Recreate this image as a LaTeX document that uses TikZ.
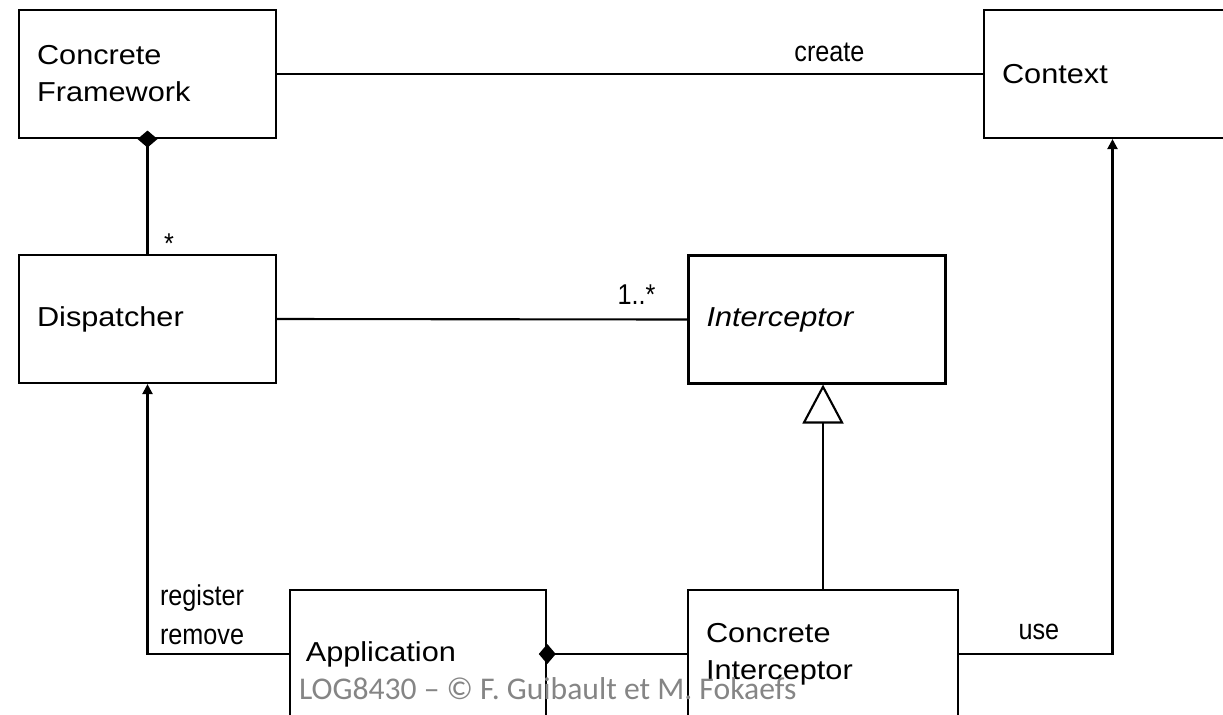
\documentclass[tikz,border=0pt]{standalone}
\usepackage{fontspec}
\setsansfont{Liberation Sans}
\newfontfamily\clsfont[FakeStretch=1.12]{Liberation Sans}
\newfontfamily\lblfont[FakeStretch=0.88]{Liberation Sans}
\newfontfamily\notefont{Carlito}
\usetikzlibrary{arrows.meta, positioning}
\definecolor{cgrey}{HTML}{858585}
\tikzset{
  every picture/.style={font=\sffamily, line width=1.2pt},
  cls/.style={draw, text width=4.42cm, inner xsep=0.36cm, minimum height=2.56cm, align=left, font=\clsfont\fontsize{15.6}{21}\selectfont},
  lbl/.style={font=\lblfont\fontsize{16.3}{22.1}\selectfont, inner sep=0pt, align=left},
  nav/.style={-{Triangle[length=0.2cm, width=0.2cm]}},
  compose/.style={-{Diamond[length=0.34cm, width=0.4cm]}, shorten >=-0.17cm},
  inherit/.style={-{Triangle[open, length=0.78cm, width=0.82cm]}},
  note/.style={font=\notefont\fontsize{18}{22}\selectfont, text=cgrey, inner sep=0pt},
}

\begin{document}
\begin{tikzpicture}[x=0.02cm, y=-0.02cm]
  \useasboundingbox (0,0) rectangle (1223,714);
  % classes
  \node[cls] (fw) at (147.5,74) {Concrete\\Framework};
  \node[cls] (ctx) at (1112.5,74) {Context};
  \node[cls] (disp) at (147.5,319) {Dispatcher};
  \node[cls] (icpt) at (817,319.5) {\itshape Interceptor};
  \node[cls, inner xsep=0.32cm, text width=4.49cm] (app) at (418,654) {Application};
  \node[cls, text width=4.68cm] (cicpt) at (823,654) {Concrete\\Interceptor};
  % relations
  \draw (fw.east) -- node[lbl, above=0.26cm, anchor=base, pos=0.7825] {create} (ctx.west);
  \draw[compose] (disp.north) -- node[lbl, anchor=base west, pos=0, xshift=0.31cm] {*} (fw.south);
  \draw (disp.east) -- node[lbl, anchor=base east, pos=1, xshift=-0.62cm, yshift=0.3cm] {1..*} (icpt.west);
  \draw[inherit] (cicpt.north) -- (cicpt.north |- icpt.south);
  \draw[compose] (cicpt.west) -- (app.east);
  \draw[nav] (app.west) -| node[lbl, anchor=south west, pos=0.5, xshift=0.23cm, yshift=0.17cm] {register\\remove} (disp.south);
  \draw[nav] (cicpt.east) -| node[lbl, above=0.3cm, anchor=base, pos=0.26] {use} (ctx.south);
  % footer
  \node[note, anchor=base west] (copy) at (298,699) {LOG8430 – © F. Guibault et M. Fokaefs};
\end{tikzpicture}
\end{document}
